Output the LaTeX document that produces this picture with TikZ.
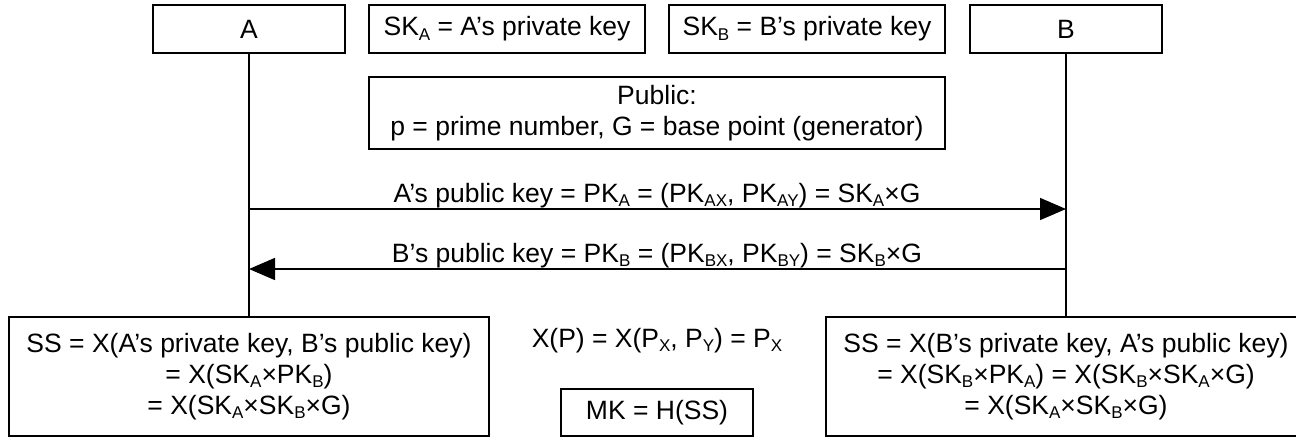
\documentclass[tikz,border=0pt]{standalone}
\usepackage{fontspec}
\setmainfont{Liberation Sans}
\usetikzlibrary{arrows.meta}
\newcommand{\sbs}[1]{\raisebox{-4.5pt}{\fontsize{17}{17}\selectfont #1}}
\tikzset{
         keybox/.style={draw,line width=1.6pt,inner sep=0pt,align=center,font=\fontsize{26.5}{31}\selectfont},
         lifeline/.style={line width=1.6pt},
         msg/.style={line width=1.6pt,-{Triangle[length=26pt,width=22pt]}},
         msgtext/.style={anchor=base,inner sep=0pt,font=\fontsize{26.5}{31}\selectfont}
        }

\begin{document}
\begin{tikzpicture}[x=1pt,y=-1pt]
      \useasboundingbox (0,0) rectangle (1296,437);
      \clip (0,0) rectangle (1296,437);
      \node[keybox,minimum width=192,minimum height=48] (A) at (249,29) {A}; % party A
      \node[keybox,minimum width=192,minimum height=48] (B) at (1066,29) {B}; % party B
      \node[keybox,minimum width=276,minimum height=48] (skA) at (507,29) {SK\sbs{A} = A’s private key}; % secret of A
      \node[keybox,minimum width=276,minimum height=48] (skB) at (807,29) {SK\sbs{B} = B’s private key}; % secret of B
      \node[keybox,minimum width=576,minimum height=72] (pub) at (657,113) {Public:\\p = prime number, G = base point (generator)}; % public values
      \node[keybox,minimum width=480,minimum height=119] (ssA) at (249,376.5) {SS = X(A’s private key, B’s public key)\\= X(SK\sbs{A}×PK\sbs{B})\\= X(SK\sbs{A}×SK\sbs{B}×G)}; % shared secret at A
      \node[keybox,minimum width=480,minimum height=119] (ssB) at (1066,376.5) {SS = X(B’s private key, A’s public key)\\= X(SK\sbs{B}×PK\sbs{A}) = X(SK\sbs{B}×SK\sbs{A}×G)\\= X(SK\sbs{A}×SK\sbs{B}×G)}; % shared secret at B
      \node[keybox,minimum width=192,minimum height=47] (mk) at (657,412.5) {MK = H(SS)}; % master key
      \node[msgtext] (xdef) at (657,347) {X(P) = X(P\sbs{X}, P\sbs{Y}) = P\sbs{X}}; % x coordinate
      \draw[lifeline] (A) -- (ssA); % lifeline A
      \draw[lifeline] (B) -- (ssB); % lifeline B
      \coordinate (a1) at (249,209);
      \coordinate (b1) at (1066,209);
      \coordinate (a2) at (249,269);
      \coordinate (b2) at (1066,269);
      \draw[msg] (a1) -- (b1); % PK A to B
      \node[msgtext] (pkA) at (657,202) {A’s public key = PK\sbs{A} = (PK\sbs{AX}, PK\sbs{AY}) = SK\sbs{A}×G}; % PK A label
      \draw[msg] (b2) -- (a2); % PK B to A
      \node[msgtext] (pkB) at (657,262) {B’s public key = PK\sbs{B} = (PK\sbs{BX}, PK\sbs{BY}) = SK\sbs{B}×G}; % PK B label
\end{tikzpicture}
\end{document}
